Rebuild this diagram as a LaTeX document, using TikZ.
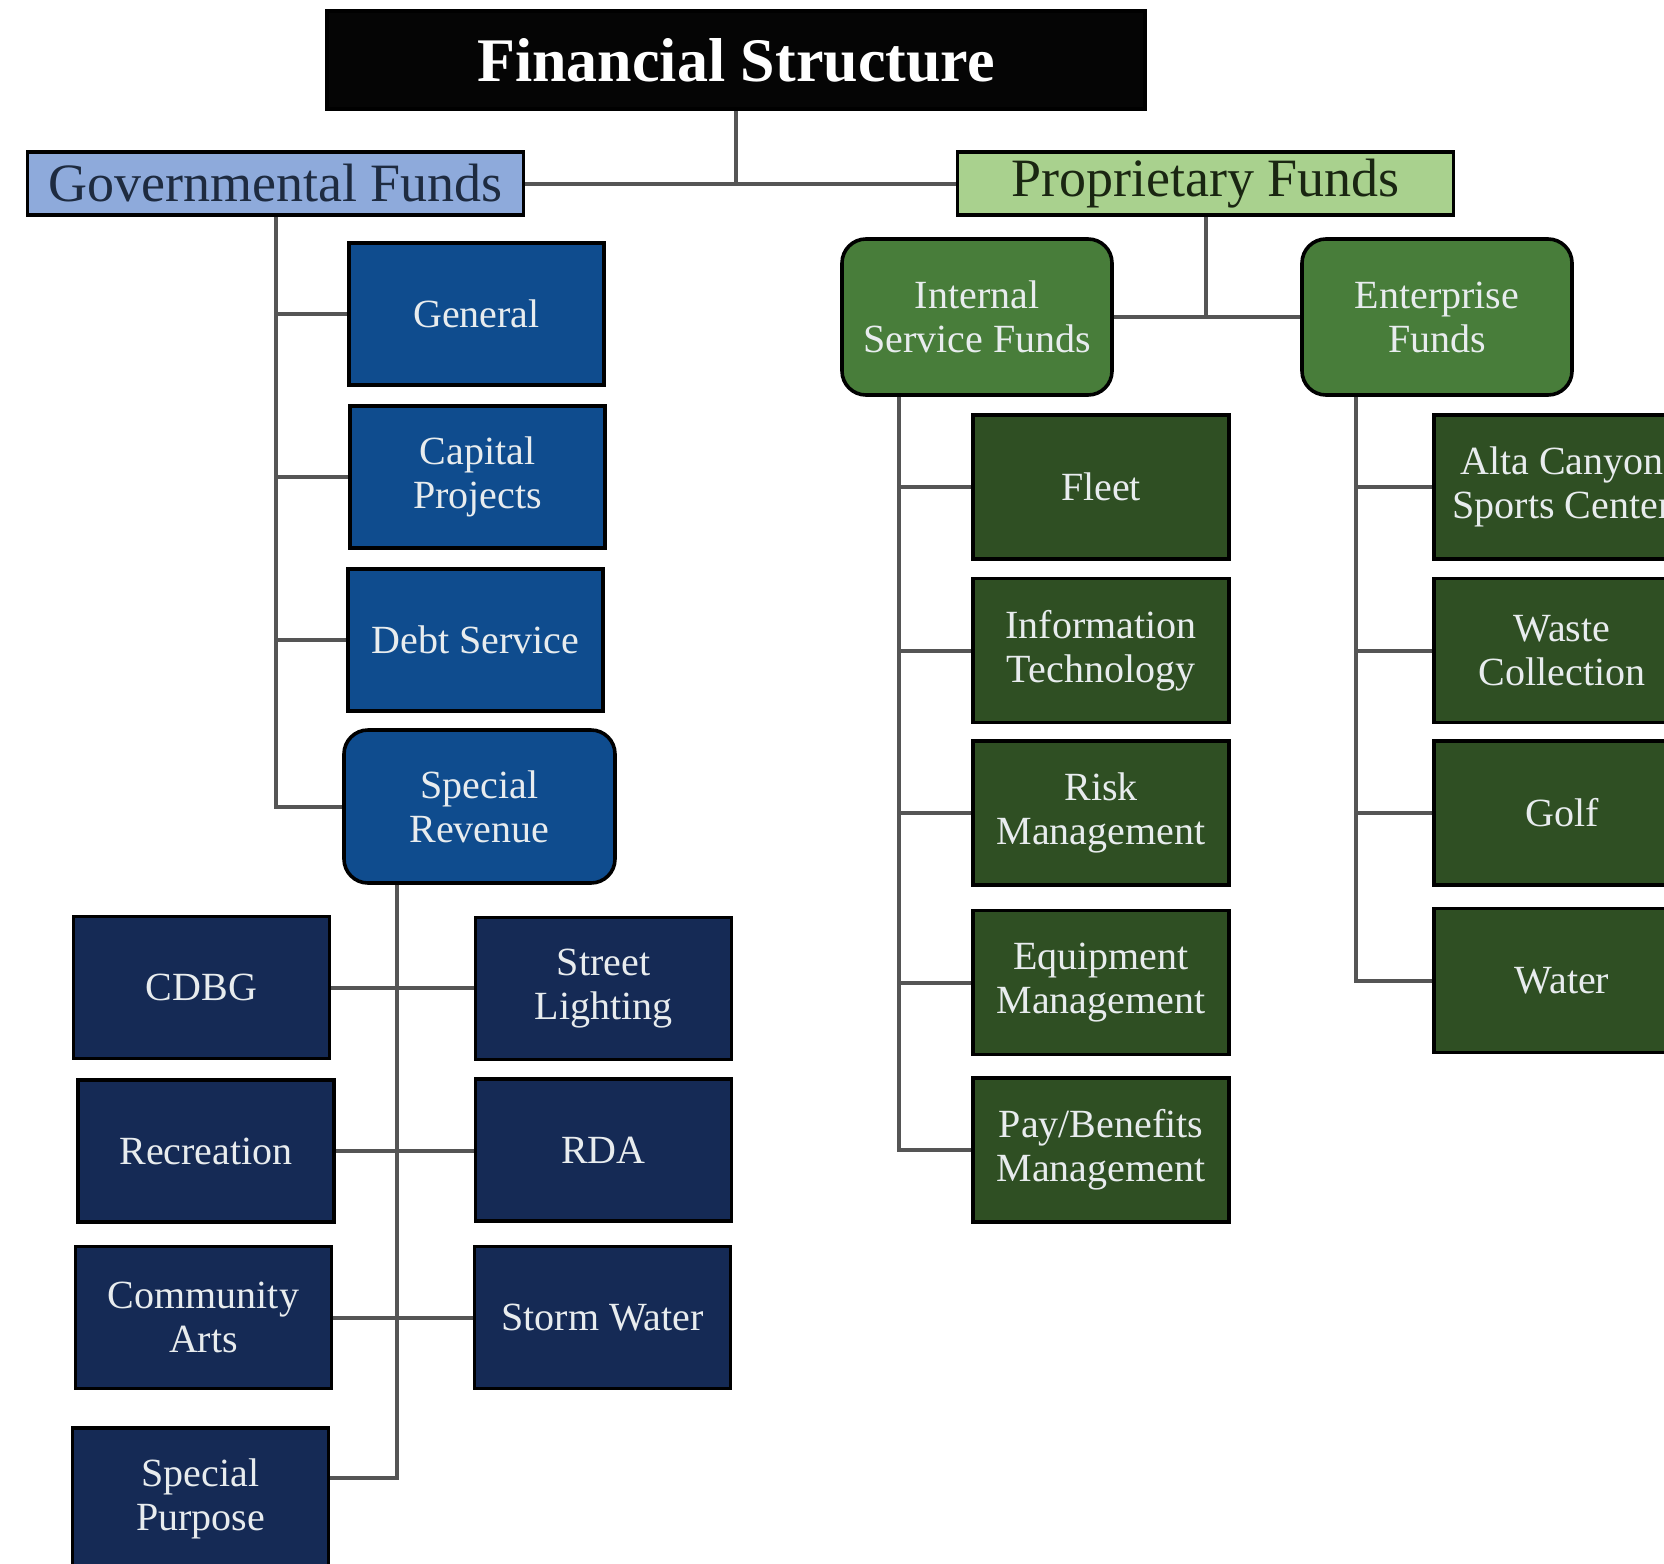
\documentclass[tikz,border=0pt]{standalone}
\usepackage{fontspec}
\setmainfont{Liberation Serif}
\usetikzlibrary{calc}
\definecolor{titleC}{HTML}{050505}
\definecolor{govC}{HTML}{8EAADB}
\definecolor{propC}{HTML}{A9D18E}
\definecolor{blueC}{HTML}{0F4C8E}
\definecolor{navyC}{HTML}{152A55}
\definecolor{midgreenC}{HTML}{487D3A}
\definecolor{darkgreenC}{HTML}{2F4F23}
\definecolor{lightT}{HTML}{E8ECEE}
\definecolor{lineC}{HTML}{555555}
\definecolor{govT}{HTML}{1E2B40}
\definecolor{propT}{HTML}{1A2612}
\tikzset{
  base/.style={draw=black, line width=1.8pt, align=center, inner sep=0pt, text=lightT,
    font=\fontsize{20}{22}\selectfont},
  titlebox/.style={base, fill=titleC, text=white, minimum width=409pt, minimum height=49pt,
    font=\fontsize{31}{34}\selectfont\bfseries},
  headbox/.style={base, minimum width=248pt, minimum height=31.5pt, font=\fontsize{27}{30}\selectfont},
  bluebox/.style={base, fill=blueC, minimum width=127.5pt, minimum height=71pt},
  navybox/.style={base, fill=navyC, minimum width=128pt, minimum height=71pt},
  midbox/.style={base, fill=midgreenC, rounded corners=12pt, minimum width=135pt, minimum height=78pt},
  greenbox/.style={base, fill=darkgreenC, minimum width=128pt, minimum height=72pt},
  link/.style={draw=lineC, line width=2pt},
}
\begin{document}
\begin{tikzpicture}[x=0.5pt,y=-0.5pt]
\useasboundingbox (0,0) rectangle (1664,1563);
\clip (0,0) rectangle (1664,1563);

% top
\node[titlebox] (title) at (736,60) {Financial Structure};
\node[headbox, fill=govC, text=govT] (gov) at (275.5,183.5) {Governmental Funds};
\node[headbox, fill=propC, text=propT] (prop) at (1205.5,183.5) {Proprietary Funds};

% governmental
\node[bluebox] (general) at (476.5,314) {General};
\node[bluebox] (capital) at (477.5,477) {Capital\\Projects};
\node[bluebox] (debt) at (475.5,640) {Debt Service};
\node[bluebox, rounded corners=12pt, minimum width=135.5pt, minimum height=76.5pt] (specrev) at (479.5,806.5) {Special\\Revenue};

\node[navybox] (cdbg) at (201.5,987.5) {CDBG};
\node[navybox] (street) at (603.5,988.5) {Street\\Lighting};
\node[navybox] (rec) at (206,1151) {Recreation};
\node[navybox] (rda) at (603.5,1150) {RDA};
\node[navybox] (arts) at (203.5,1317.5) {Community\\Arts};
\node[navybox] (storm) at (602.5,1317.5) {Storm Water};
\node[navybox] (specp) at (200.5,1499) {Special\\Purpose};

% proprietary
\node[midbox] (isf) at (977,317) {Internal\\Service Funds};
\node[midbox] (ef) at (1437,317) {Enterprise\\Funds};

\node[greenbox] (fleet) at (1101,487) {Fleet};
\node[greenbox] (it) at (1101,650.5) {Information\\Technology};
\node[greenbox] (risk) at (1101,813) {Risk\\Management};
\node[greenbox] (equip) at (1101,982.5) {Equipment\\Management};
\node[greenbox] (pay) at (1101,1150) {Pay/Benefits\\Management};

\node[greenbox] (alta) at (1562,487) {Alta Canyon\\Sports Center};
\node[greenbox] (waste) at (1562,650.5) {Waste\\Collection};
\node[greenbox] (golf) at (1562,813) {Golf};
\node[greenbox] (water) at (1562,980.5) {Water};

\begin{scope}[link]
\draw (gov.east) -- (prop.west);
\draw (title.south) -- (title.south |- gov.east);

\draw (gov.south) |- (specrev.west);
\draw (gov.south |- general.west) -- (general.west);
\draw (gov.south |- capital.west) -- (capital.west);
\draw (gov.south |- debt.west) -- (debt.west);

\coordinate (sr) at ([xshift=27.5pt]specrev.south west);
\coordinate (spj) at ([yshift=10.5pt]specp.east);
\draw (sr) |- (spj);
\draw (cdbg.east) -- (cdbg.east -| street.west);
\draw (rec.east) -- (rec.east -| rda.west);
\draw (arts.east) -- (storm.west);

\draw (prop.south) -- (prop.south |- isf.east);
\draw (isf.east) -- (ef.west);

\coordinate (isfj) at ([xshift=29.5pt]isf.south west);
\draw (isfj) |- (pay.west);
\draw (isfj |- fleet.west) -- (fleet.west);
\draw (isfj |- it.west) -- (it.west);
\draw (isfj |- risk.west) -- (risk.west);
\draw (isfj |- equip.west) -- (equip.west);

\coordinate (efj) at ([xshift=28pt]ef.south west);
\draw (efj) |- (water.west);
\draw (efj |- alta.west) -- (alta.west);
\draw (efj |- waste.west) -- (waste.west);
\draw (efj |- golf.west) -- (golf.west);
\end{scope}
\end{tikzpicture}
\end{document}
